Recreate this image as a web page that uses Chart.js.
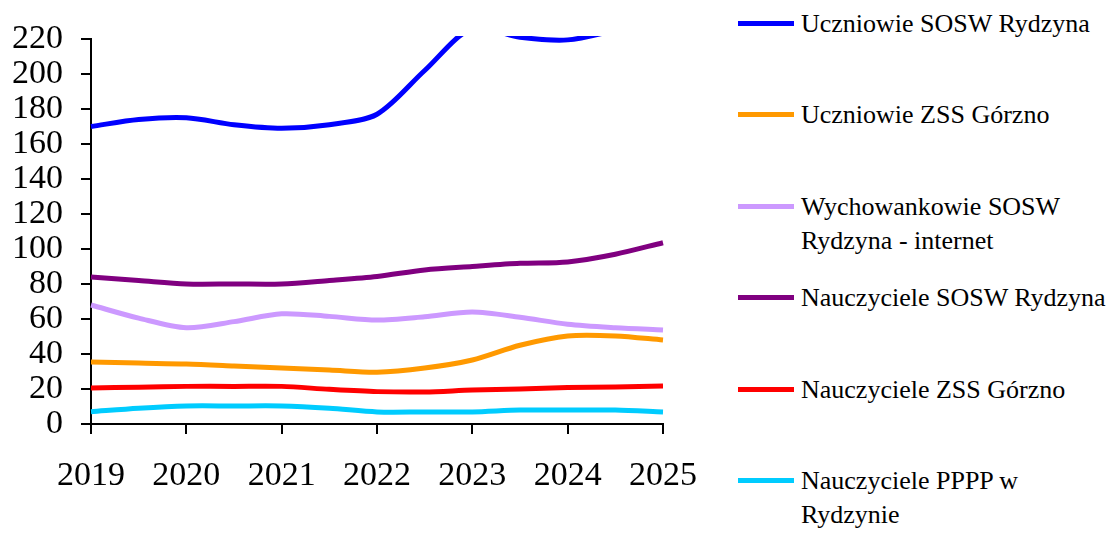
<!DOCTYPE html>
<html>
<head>
<meta charset="utf-8">
<script src="https://cdn.jsdelivr.net/npm/chart.js@4.4.0/dist/chart.umd.min.js"></script>
<style>
  html,body{margin:0;padding:0;background:#fff;}
  #wrap{position:relative;width:1111px;height:542px;overflow:hidden;}
  #box{position:absolute;left:0;top:0;width:720px;height:542px;}
  #legend{position:absolute;left:738px;top:0;width:373px;font-family:"Liberation Serif",serif;font-size:26px;line-height:34px;color:#000;}
  .item{position:absolute;left:0;}
  .item .ln{position:absolute;left:0;width:56px;height:5px;}
  .item .tx{position:absolute;left:63px;width:312px;}
</style>
</head>
<body>
<div id="wrap">
  <div id="box"><canvas id="c"></canvas></div>
  <div id="legend"></div>
</div>
<script>
// data (half-year steps)
const years = [2019, 2019.5, 2020, 2020.5, 2021, 2021.5, 2022, 2022.5, 2023, 2023.5, 2024, 2024.5, 2025];
const seriesNames = [
  'Uczniowie SOSW Rydzyna',
  'Uczniowie ZSS Górzno',
  'Wychowankowie SOSW Rydzyna - internet',
  'Nauczyciele SOSW Rydzyna',
  'Nauczyciele ZSS Górzno',
  'Nauczyciele PPPP w Rydzynie'
];
const uczniowieSosw  = [170, 174, 175, 171, 169, 171, 177, 202, 226, 221, 219.5, 225, 232];
const uczniowieZss   = [35.4, 34.8, 34.3, 33.2, 32, 30.9, 29.6, 32, 36.6, 45, 50.3, 50.3, 48];
const wychowankowie  = [68, 60.5, 55, 58.5, 63, 61.5, 59.4, 61.3, 64, 61, 57, 55, 53.7];
const nauczycSosw    = [84, 82, 80, 80, 80, 82, 84.3, 88, 90, 91.8, 92.6, 97, 103.6];
const nauczycZss     = [20.6, 21, 21.5, 21.5, 21.5, 19.8, 18.5, 18.3, 19.4, 20, 20.8, 21.2, 21.7];
const nauczycPppp    = [7, 9, 10.3, 10.3, 10.3, 9, 6.9, 6.9, 6.9, 8, 8, 8, 6.9];
const colors = ['#0000FF', '#FF9900', '#CC99FF', '#800080', '#FF0000', '#00CCFF'];

const allSeries = [uczniowieSosw, uczniowieZss, wychowankowie, nauczycSosw, nauczycZss, nauczycPppp];

Chart.defaults.font.family = '"Liberation Serif", serif';
Chart.defaults.color = '#000';

const datasets = allSeries.map((vals, i) => ({
  label: seriesNames[i],
  data: vals.map((v, j) => ({x: years[j], y: v})),
  borderColor: colors[i],
  backgroundColor: colors[i],
  borderWidth: 5,
  pointRadius: 0,
  tension: 0.3,
  clip: 3
}));

new Chart(document.getElementById('c'), {
  type: 'line',
  data: { datasets },
  options: {
    responsive: true,
    maintainAspectRatio: false,
    animation: false,
    layout: { padding: { top: 39, right: 57, left: 0, bottom: 0 } },
    plugins: { legend: { display: false }, tooltip: { enabled: false } },
    scales: {
      x: {
        type: 'linear', min: 2019, max: 2025,
        afterFit: s => { s.height = 118; },
        border: { display: true, color: '#000', width: 2 },
        grid: { drawOnChartArea: false, drawTicks: true, tickLength: 10, color: '#000', lineWidth: 2 },
        ticks: { stepSize: 1, padding: 22, autoSkip: false, maxRotation: 0, font: { size: 34 }, callback: v => String(v) }
      },
      y: {
        min: 0, max: 220,
        afterFit: s => { s.width = 91; },
        border: { display: true, color: '#000', width: 2 },
        grid: { drawOnChartArea: false, drawTicks: true, tickLength: 10, color: '#000', lineWidth: 2 },
        ticks: { stepSize: 20, padding: 18, autoSkip: false, font: { size: 34, lineHeight: 1 } }
      }
    }
  }
});

// legend on the right
const lg = document.getElementById('legend');
seriesNames.forEach((name, i) => {
  const it = document.createElement('div');
  it.className = 'item';
  it.style.top = (7 + i * 91.4) + 'px';
  it.innerHTML = `<div class="ln" style="top:14px;background:${colors[i]}"></div><div class="tx">${name}</div>`;
  lg.appendChild(it);
});
</script>
</body>
</html>
